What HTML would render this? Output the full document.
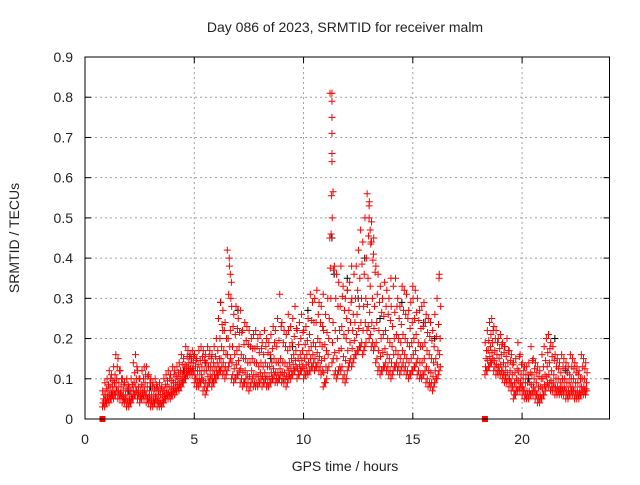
<!DOCTYPE html>
<html><head><meta charset="utf-8"><style>
body{margin:0;background:#fff}
svg text{font-family:"Liberation Sans",sans-serif;fill:#222}
</style></head><body>
<svg id="chart" width="640" height="480" xmlns="http://www.w3.org/2000/svg">
<rect width="640" height="480" fill="#fff"/>
<text x="345" y="32" font-size="14" text-anchor="middle">Day 086 of 2023, SRMTID for receiver malm</text>
<text x="345" y="471" font-size="14" text-anchor="middle">GPS time / hours</text>
<text transform="translate(19,238) rotate(-90)" font-size="14" text-anchor="middle">SRMTID / TECUs</text>
<g id="grid"></g><g id="marks"></g><g id="axes"></g>
</svg>
<script>
const xTicks=[0,5,10,15,20];
const yTicks=[0,0.1,0.2,0.3,0.4,0.5,0.6,0.7,0.8,0.9];
const seg1Start=0.8, seg2Start=18.3;
const seg1Hi=[7,9,10,12,11,13,16,15,12,10,9,10,8,10,14,16,12,10,12,13,13,11,10,9,10,8,9,8,10,11,12,11,13,12,13,14,16,15,18,17,16,17,16,15,17,18,17,16,18,17,16,18,20,25,29,27,24,42,38,28,26,28,25,27,22,24,23,22,20,21,22,20,21,19,22,20,19,21,23,22,25,31,24,22,21,22,23,25,28,22,24,26,22,23,25,31,29,30,32,29,28,22,26,30,81,50,38,36,34,38,33,30,32,34,30,36,38,42,47,44,50,56,54,49,45,38,36,33,30,34,32,30,28,33,35,30,28,33,32,31,27,29,30,32,30,27,28,29,26,25,24,22,26,30,36];
const seg1Mid=[5,6,7,8,8,9,10,9,8,7,6,7,6,7,9,10,8,7,8,9,8,7,6,6,7,6,6,6,7,8,8,8,9,9,10,10,11,12,13,14,14,14,13,12,12,13,12,12,13,13,12,13,14,15,18,17,16,20,22,18,16,17,18,16,15,15,14,14,15,14,14,13,14,13,14,13,13,14,15,14,14,15,14,14,13,14,15,16,17,15,16,17,15,16,17,18,19,18,20,19,18,15,17,20,30,24,22,20,22,23,21,20,22,24,22,24,26,28,30,28,30,35,33,30,28,24,22,20,21,22,20,19,18,20,21,20,19,21,20,19,18,19,20,21,19,18,18,19,17,16,15,14,15,17,20];
const seg1Lo=[3,3,4,4,5,5,6,5,5,4,4,3,3,4,5,6,5,4,5,5,4,4,3,3,4,3,3,3,4,5,5,5,6,6,7,7,8,9,10,11,11,11,9,8,8,9,7,6,8,9,8,9,10,11,12,11,10,12,14,10,9,10,11,9,8,9,8,7,9,8,8,8,9,8,9,8,8,9,10,9,9,10,9,9,8,10,10,11,12,10,11,12,10,11,11,12,13,12,13,12,11,8,9,12,45,14,11,10,12,12,10,9,12,14,13,15,16,17,18,16,18,22,20,18,17,14,12,11,12,13,12,11,10,12,13,12,11,13,12,11,10,11,12,13,11,10,10,11,9,8,8,7,9,10,12];
const seg2Hi=[19,22,24,25,23,22,20,21,19,18,20,17,16,14,15,19,16,14,13,13,14,18,15,14,13,12,16,18,20,21,19,18,16,15,14,16,15,14,13,16,15,14,13,12,16,15,14];
const seg2Mid=[15,17,18,19,17,16,15,16,14,13,14,12,11,9,10,12,11,10,9,9,9,11,10,9,8,8,10,11,13,14,12,11,10,10,9,10,10,9,9,10,10,9,9,8,10,10,9];
const seg2Lo=[11,12,13,14,12,11,11,11,10,9,9,8,7,5,6,7,7,6,5,5,5,6,6,5,4,4,5,6,8,8,7,7,6,6,6,6,6,5,5,6,6,5,5,5,6,6,6];
const extraTimes=[11.3,11.3,11.3,11.3,11.3,11.3,11.35,13.0,13.0,13.05,13.1,13.2,6.6,6.65,6.7,12.2,12.0,14.0,15.0,16.2,6.3,9.3,10.9];
const extraVals=[0.81,0.79,0.75,0.71,0.66,0.64,0.565,0.53,0.50,0.47,0.44,0.41,0.40,0.36,0.34,0.38,0.32,0.35,0.33,0.35,0.22,0.26,0.31];
const blackTimes=[11.3,11.4,12.0,12.8,13.1,7.0,6.2,10.2,14.5,15.5,21.5,19.2,4.5,3.0,2.0,8.5,9.5,12.5,13.5,16.0,20.3,22.0,5.5,1.2];
const blackVals=[0.45,0.36,0.35,0.40,0.44,0.27,0.29,0.27,0.29,0.24,0.20,0.18,0.12,0.08,0.07,0.15,0.18,0.30,0.25,0.20,0.10,0.12,0.14,0.06];
const zeroTimes=[0.8,18.3];

const X0=85,X1=609.5,Y0=419,Y1=57,XMAX=24,YMAX=0.9;
const sx=t=>X0+(X1-X0)*t/XMAX, sy=v=>Y0-(Y0-Y1)*v/YMAX;
const NS="http://www.w3.org/2000/svg";
function mk(tag,parent){const e=document.createElementNS(NS,tag);parent.appendChild(e);return e;}
const grid=document.getElementById('grid'),marks=document.getElementById('marks'),axes=document.getElementById('axes');
xTicks.forEach(t=>{
 if(t>0){const g=mk('line',grid);g.setAttribute('x1',sx(t));g.setAttribute('x2',sx(t));g.setAttribute('y1',Y0);g.setAttribute('y2',Y1);g.setAttribute('stroke','#a0a0a0');g.setAttribute('stroke-dasharray','2,3');
 
 }
 const l=mk('text',axes);l.setAttribute('x',sx(t));l.setAttribute('y',Y0+25);l.setAttribute('font-size','14');l.setAttribute('text-anchor','middle');l.textContent=t;
 
 
 [[Y0,Y0-6],[Y1,Y1+6]].forEach(([a,b])=>{const k=mk('line',axes);k.setAttribute('x1',sx(t));k.setAttribute('x2',sx(t));k.setAttribute('y1',a);k.setAttribute('y2',b);k.setAttribute('stroke','#000');});
});
yTicks.forEach(v=>{
 if(v>0){const g=mk('line',grid);g.setAttribute('x1',X0);g.setAttribute('x2',X1);g.setAttribute('y1',sy(v));g.setAttribute('y2',sy(v));g.setAttribute('stroke','#a0a0a0');g.setAttribute('stroke-dasharray','2,3');
 
 }
 const l=mk('text',axes);l.setAttribute('x',X0-12);l.setAttribute('y',sy(v)+5);l.setAttribute('font-size','14');l.setAttribute('text-anchor','end');l.textContent=v===0?'0':v.toFixed(1);
 
 
 [[X0,X0+6],[X1,X1-6]].forEach(([a,b])=>{const k=mk('line',axes);k.setAttribute('x1',a);k.setAttribute('x2',b);k.setAttribute('y1',sy(v));k.setAttribute('y2',sy(v));k.setAttribute('stroke','#000');});
});
const fr=mk('rect',axes);fr.setAttribute('x',X0);fr.setAttribute('y',Y1);fr.setAttribute('width',X1-X0);fr.setAttribute('height',Y0-Y1);fr.setAttribute('fill','none');fr.setAttribute('stroke','#000');


function plus(t,v,col){
 const x=sx(t),y=sy(v);const p=mk('path',marks);
 p.setAttribute('d',`M${x-3.5},${y}H${x+3.5}M${x},${y-3.5}V${y+3.5}`);p.setAttribute('stroke',col);p.setAttribute('stroke-width','1');
 
 
}
blackTimes.forEach((t,i)=>plus(t,blackVals[i],'#000'));
[[seg1Start,seg1Lo,seg1Mid,seg1Hi],[seg2Start,seg2Lo,seg2Mid,seg2Hi]].forEach(([s,lo,mid,hi])=>{
 lo.forEach((l,i)=>{
  const t=s+0.1*i,m=mid[i],h=Math.min(hi[i],m*2+6);
  plus(t,l/100,'#f00');
  plus(t+0.05,m/100,'#f00');
  plus(t+0.025,(l+m)/200,'#f00');
  plus(t+0.075,(m+hi[i])/200,'#f00');
  plus(t+0.01,hi[i]/100,'#f00');
  plus(t+0.06,(l+1)/100,'#f00');
 });
});
extraTimes.forEach((t,i)=>plus(t,extraVals[i],'#f00'));
zeroTimes.forEach(t=>{const r=mk('rect',marks);r.setAttribute('x',sx(t)-3);r.setAttribute('y',Y0-3);r.setAttribute('width',6);r.setAttribute('height',6);r.setAttribute('fill','#f00');
 
 });
</script>
</body></html>
